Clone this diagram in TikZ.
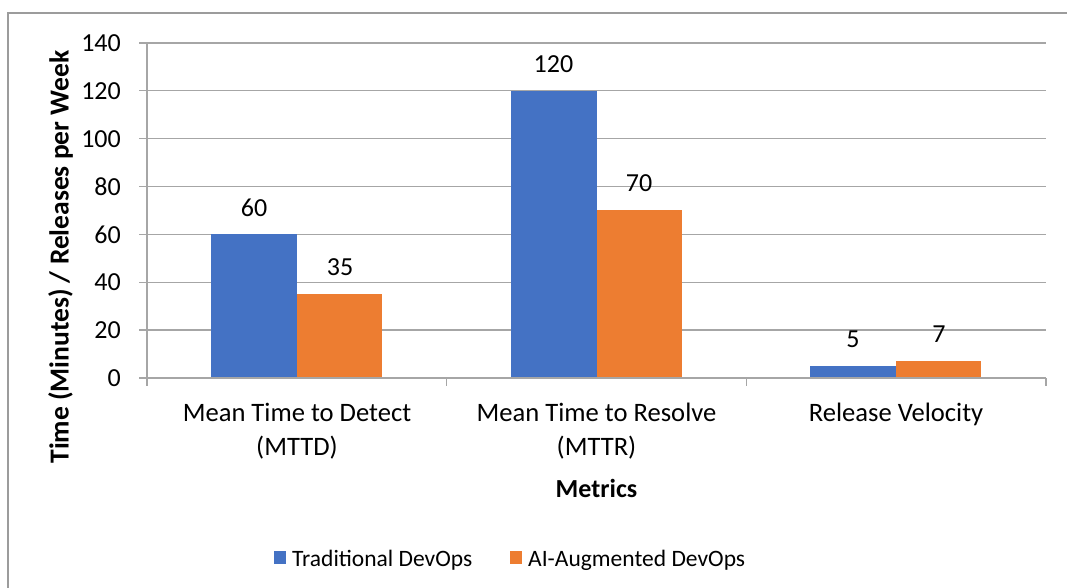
\documentclass[tikz,border=0pt]{standalone}
\usepackage{fontspec}
\setmainfont{Carlito}
\definecolor{tradblue}{HTML}{4472C4}
\definecolor{aiorange}{HTML}{ED7D31}
\definecolor{gridgray}{HTML}{A6A6A6}
\definecolor{bordergray}{HTML}{9C9C9C}
\begin{document}
\begin{tikzpicture}[x=1pt,y=-1pt,
  every node/.style={font=\fontsize{26}{31}\selectfont, text=black},
  gridline/.style={draw=gridgray, line width=1.3pt},
  axisline/.style={draw=gridgray, line width=1.3pt},
  tradbar/.style={fill=tradblue, draw=none},
  aibar/.style={fill=aiorange, draw=none},
  ticklabel/.style={anchor=east, inner sep=0pt},
  vallabel/.style={anchor=center, inner sep=0pt},
  catlabel/.style={anchor=base, inner sep=0pt, font=\fontsize{26.6}{31}\selectfont},
  titlelabel/.style={font=\fontsize{26}{31}\selectfont\bfseries, inner sep=0pt},
  legendtext/.style={anchor=base west, inner sep=0pt, font=\fontsize{23.5}{28}\selectfont}
]
\useasboundingbox (0,0) rectangle (1067,588);
\fill[white] (0,0) rectangle (1067,588);
\begin{scope}
  \clip (0,0) rectangle (1067,588);
  \draw[bordergray, line width=1.5pt] (8,13) rectangle (1090,610);
\end{scope}
% gridlines and tick labels
\foreach \v in {20,40,...,140} {
  \draw[gridline] (139,{378-2.393*\v}) -- (1046,{378-2.393*\v});
}
\foreach \v in {0,20,...,140} {
  \node[ticklabel] (tick\v) at (121,{378-2.393*\v}) {\v};
}
% bars
\fill[tradbar] (211,378) rectangle (297,{378-2.393*60}) coordinate (b1);
\fill[aibar]   (297,378) rectangle (382,{378-2.393*35}) coordinate (o1);
\fill[tradbar] (511,378) rectangle (596.5,{378-2.393*120}) coordinate (b2);
\fill[aibar]   (596.5,378) rectangle (682,{378-2.393*70}) coordinate (o2);
\fill[tradbar] (810,378) rectangle (896,{378-2.393*5}) coordinate (b3);
\fill[aibar]   (896,378) rectangle (981,{378-2.393*7}) coordinate (o3);
% axes
\draw[axisline] (139,378) -- (1046,378);
\draw[axisline] (147,43) -- (147,386);
\foreach \x in {446.7,746.3,1046} {
  \draw[axisline] (\x,378) -- (\x,386);
}
% value labels
\node[vallabel] (v1) at (254,{378-2.393*60-27}) {60};
\node[vallabel] (v2) at (340,{378-2.393*35-27}) {35};
\node[vallabel] (v3) at (553.5,{378-2.393*120-27}) {120};
\node[vallabel] (v4) at (639,{378-2.393*70-27}) {70};
\node[vallabel] (v5) at (853,{378-2.393*5-27}) {5};
\node[vallabel] (v6) at (939,{378-2.393*7-27}) {7};
% category labels
\node[catlabel] (c1a) at (297,421) {Mean Time to Detect};
\node[catlabel] (c1b) at (297,455) {(MTTD)};
\node[catlabel] (c2a) at (596.5,421) {Mean Time to Resolve};
\node[catlabel] (c2b) at (596.5,455) {(MTTR)};
\node[catlabel] (c3a) at (896,421) {Release Velocity};
% axis titles
\node[titlelabel, anchor=base] (xtitle) at (596.5,497) {Metrics};
\node[titlelabel, anchor=base, rotate=90, font=\fontsize{27.5}{32}\selectfont\bfseries] (ytitle) at (68.5,257) {Time (Minutes) / Releases per Week};
% legend
\fill[tradblue] (274,551) rectangle (286,564);
\node[legendtext] (leg1) at (292,566) {Traditional DevOps};
\fill[aiorange] (510,551) rectangle (522,564);
\node[legendtext] (leg2) at (528,566) {AI-Augmented DevOps};
\end{tikzpicture}
\end{document}
